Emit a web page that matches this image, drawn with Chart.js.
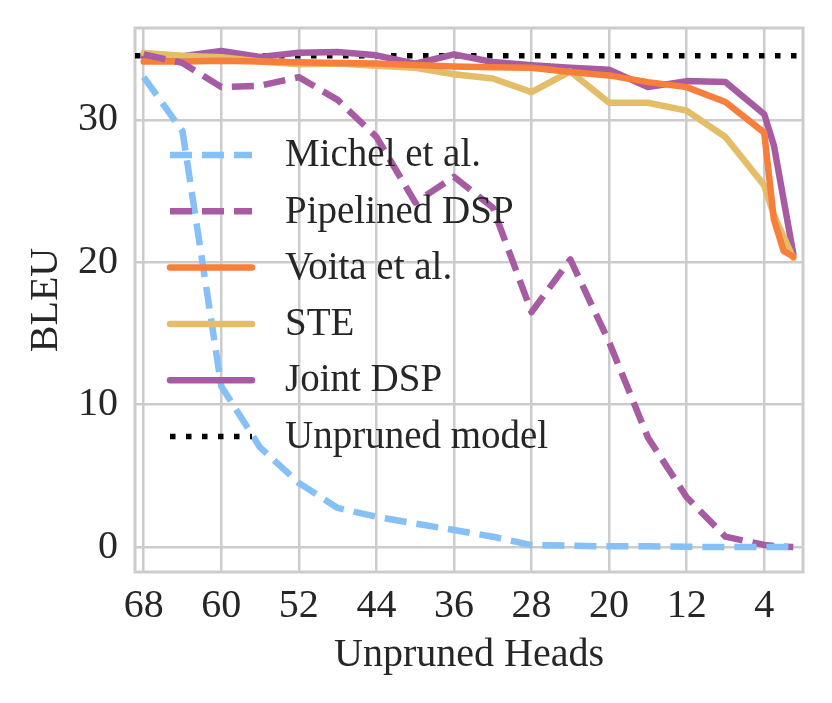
<!DOCTYPE html>
<html>
<head>
<meta charset="utf-8">
<script src="https://cdn.jsdelivr.net/npm/chart.js@4.4.0/dist/chart.umd.min.js"></script>
<style>
  body { margin: 0; background: #fff; }
  #wrap { width: 832px; height: 703px; }
</style>
</head>
<body>
<div id="wrap"><canvas id="bleuChart" width="832" height="703"></canvas></div>
<script>
// --- Data ---
const heads = [68, 64, 60, 56, 52, 48, 44, 40, 36, 32, 28, 24, 20, 16, 12, 8, 4, 3, 2, 1];
const michel =    [33.0, 29.2, 11.3, 7.0, 4.5, 2.75, 2.13, 1.65, 1.2, 0.73, 0.14, 0.1, 0.05, 0.05, 0.02, 0.0, 0.0, 0.0, 0.0, 0.0];
const pipelined = [34.6, 34.0, 32.3, 32.4, 33.0, 31.4, 28.8, 24.2, 26.0, 23.85, 16.5, 20.2, 14.4, 7.7, 3.5, 0.73, 0.15, 0.08, 0.03, 0.0];
const voita =     [34.1, 34.1, 34.15, 34.1, 34.05, 34.0, 33.95, 33.85, 33.75, 33.7, 33.66, 33.36, 33.12, 32.65, 32.3, 31.25, 29.1, 23.0, 20.8, 20.4];
const ste =       [34.7, 34.5, 34.4, 34.1, 33.9, 33.95, 33.8, 33.66, 33.2, 32.9, 31.95, 33.4, 31.2, 31.2, 30.65, 28.8, 25.4, 23.3, 21.8, 20.3];
const jointDsp =  [34.46, 34.46, 34.84, 34.42, 34.72, 34.77, 34.53, 33.94, 34.6, 34.06, 33.83, 33.66, 33.52, 32.3, 32.72, 32.65, 30.4, 28.2, 24.4, 20.6];
const unprunedBleu = 34.5;

const xTicks = [68, 60, 52, 44, 36, 28, 20, 12, 4];
const yTicks = [0, 10, 20, 30];
const xMin = 0, xMax = 68.9;
const yMin = -1.75, yMax = 36.45;

const FONT = "'Liberation Serif', 'Times New Roman', serif";
const TEXT = '#262626';
const GRID = '#cccccc';

function pts(vals) {
  return heads.map((h, i) => ({ x: h, y: vals[i] }));
}

// --- Inline legend (drawn inside the plot, no box) ---
const insideLegend = {
  id: 'insideLegend',
  afterDatasetsDraw(chart) {
    const ctx = chart.ctx;
    const area = chart.chartArea;
    const x0 = area.left + 35, x1 = area.left + 117, tx = area.left + 150;
    ctx.save();
    chart.data.datasets.forEach((ds, i) => {
      const y = area.top + 127 + i * 56.3;
      ctx.beginPath();
      ctx.strokeStyle = ds.borderColor;
      ctx.lineWidth = ds.borderWidth;
      ctx.setLineDash(ds.borderDash || []);
      ctx.lineCap = ds.borderCapStyle || 'butt';
      ctx.moveTo(x0, y);
      ctx.lineTo(x1, y);
      ctx.stroke();
      ctx.setLineDash([]);
      ctx.fillStyle = TEXT;
      ctx.font = '39px ' + FONT;
      ctx.textBaseline = 'middle';
      ctx.textAlign = 'left';
      ctx.fillText(ds.label, tx, y + 1);
    });
    ctx.restore();
  }
};

// --- Frame round the plot ---
const frame = {
  id: 'frame',
  beforeDatasetsDraw(chart) {
    const { ctx, chartArea: a } = chart;
    ctx.save();
    ctx.strokeStyle = GRID;
    ctx.lineWidth = 3;
    ctx.strokeRect(a.left, a.top, a.right - a.left, a.bottom - a.top);
    ctx.restore();
  }
};

const ctx = document.getElementById('bleuChart').getContext('2d');
new Chart(ctx, {
  type: 'line',
  data: {
    datasets: [
      { label: 'Michel et al.', data: pts(michel), borderColor: '#85c0f7', borderWidth: 6.5, borderDash: [22, 10], borderCapStyle: 'butt' },
      { label: 'Pipelined DSP', data: pts(pipelined), borderColor: '#a65ba3', borderWidth: 6.5, borderDash: [22, 10], borderCapStyle: 'butt' },
      { label: 'Voita et al.', data: pts(voita), borderColor: '#f77e3b', borderWidth: 6.5, borderCapStyle: 'round' },
      { label: 'STE', data: pts(ste), borderColor: '#e3bd68', borderWidth: 6.5, borderCapStyle: 'round' },
      { label: 'Joint DSP', data: pts(jointDsp), borderColor: '#a65ba3', borderWidth: 6.5, borderCapStyle: 'round' },
      { label: 'Unpruned model', data: [{ x: xMax, y: unprunedBleu }, { x: xMin, y: unprunedBleu }], borderColor: '#000000', borderWidth: 5.5, borderDash: [5.5, 10.5], borderCapStyle: 'butt' }
    ]
  },
  options: {
    responsive: false,
    devicePixelRatio: 1,
    animation: false,
    layout: { padding: { top: 28, right: 29, left: 0, bottom: 0 } },
    elements: {
      point: { radius: 0 },
      line: { tension: 0, borderJoinStyle: 'round', fill: false }
    },
    plugins: {
      legend: { display: false },
      tooltip: { enabled: false }
    },
    scales: {
      x: {
        type: 'linear',
        reverse: true,
        min: xMin,
        max: xMax,
        afterBuildTicks: s => { s.ticks = xTicks.map(v => ({ value: v })); },
        afterFit: s => { s.height = 131; s.paddingLeft = 0; s.paddingRight = 0; },
        grid: { color: GRID, lineWidth: 2.5, drawTicks: false },
        border: { display: false },
        ticks: { color: TEXT, font: { family: FONT, size: 40 }, padding: 10, maxRotation: 0, autoSkip: false },
        title: { display: true, text: 'Unpruned Heads', color: TEXT, font: { family: FONT, size: 40 }, padding: { top: 0, bottom: 24 } }
      },
      y: {
        min: yMin,
        max: yMax,
        afterBuildTicks: s => { s.ticks = yTicks.map(v => ({ value: v })); },
        afterFit: s => { s.width = 135; s.paddingTop = 0; s.paddingBottom = 0; },
        grid: { color: GRID, lineWidth: 2.5, drawTicks: false },
        border: { display: false },
        ticks: { color: TEXT, font: { family: FONT, size: 40 }, padding: 17 },
        title: { display: true, text: 'BLEU', color: TEXT, font: { family: FONT, size: 40 }, padding: { top: 22, bottom: 0 } }
      }
    }
  },
  plugins: [frame, insideLegend]
});
</script>
</body>
</html>
